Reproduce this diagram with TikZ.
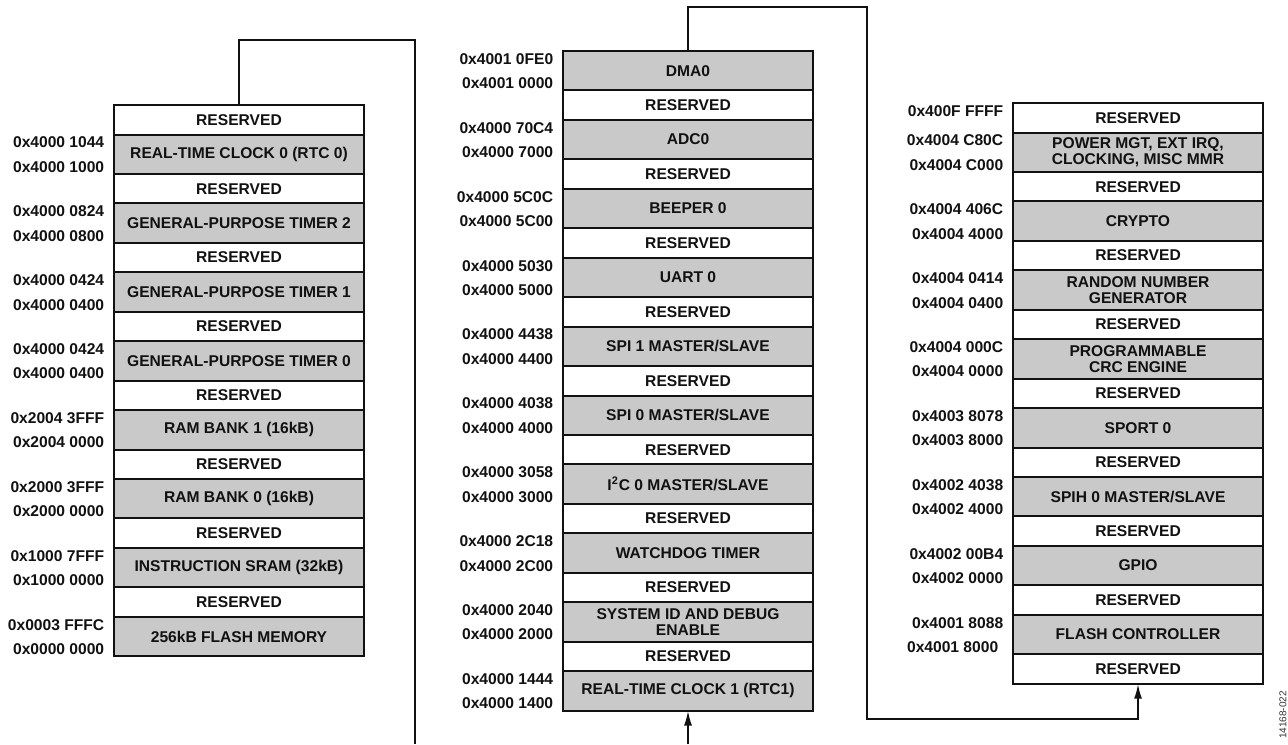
\documentclass[tikz,border=0pt]{standalone}
\usepackage{fontspec}
\setmainfont{Liberation Sans}
\usetikzlibrary{arrows.meta, positioning, calc}
\definecolor{memGray}{HTML}{C9C9C9}
\definecolor{memInk}{HTML}{111111}

\tikzset{
  cell/.style={draw=memInk, line width=1pt, minimum width=125pt, inner sep=0pt,
    outer sep=0pt, anchor=north west, align=center, text=memInk,
    font=\fontsize{7.8}{8}\selectfont\bfseries},
  resv/.style={cell, fill=white, minimum height=14.75pt},
  blk/.style={cell, fill=memGray, minimum height=19.7pt},
  kind/.code={\ifnum#1=1 \pgfkeysalso{blk}\else\pgfkeysalso{resv}\fi},
  addr/.style={anchor=east, inner sep=0pt, text=memInk,
    font=\fontsize{7.8}{8}\selectfont\bfseries},
  link/.style={draw=memInk, line width=1pt},
  tip/.style={-{Latex[length=7.5pt, width=4pt]}},
}

\begin{document}
\begin{tikzpicture}[x=0.5pt, y=-0.5pt]
  \useasboundingbox (0,0) rectangle (1288,744);

  % left column: code and SRAM
  \foreach \k/\txt/\hi/\lo [count=\i] in {
      0/RESERVED/{}/{}, 1/REAL-TIME CLOCK 0 (RTC 0)/0x4000 1044/0x4000 1000,
      0/RESERVED/{}/{}, 1/GENERAL-PURPOSE TIMER 2/0x4000 0824/0x4000 0800,
      0/RESERVED/{}/{}, 1/GENERAL-PURPOSE TIMER 1/0x4000 0424/0x4000 0400,
      0/RESERVED/{}/{}, 1/GENERAL-PURPOSE TIMER 0/0x4000 0424/0x4000 0400,
      0/RESERVED/{}/{}, 1/RAM BANK 1 (16kB)/0x2004 3FFF/0x2004 0000,
      0/RESERVED/{}/{}, 1/RAM BANK 0 (16kB)/0x2000 3FFF/0x2000 0000,
      0/RESERVED/{}/{}, 1/INSTRUCTION SRAM (32kB)/0x1000 7FFF/0x1000 0000,
      0/RESERVED/{}/{}, 1/256kB FLASH MEMORY/0x0003 FFFC/0x0000 0000} {
    \pgfmathtruncatemacro\j{\i-1}
    \ifnum\i=1
      \node[kind=\k] (L\i) at (114,105) {\txt};
    \else
      \node[kind=\k] (L\i) at (L\j.south west) {\txt};
    \fi
    \node[addr] (L\i-hi) at ([xshift=-4.7pt, yshift=-4pt]L\i.north west) {\hi};
    \node[addr] (L\i-lo) at ([xshift=-4.7pt, yshift=3.5pt]L\i.south west) {\lo};
  }

  % middle column: peripherals
  \foreach \k/\txt/\hi/\lo [count=\i] in {
      1/DMA0/0x4001 0FE0/0x4001 0000,
      0/RESERVED/{}/{}, 1/ADC0/0x4000 70C4/0x4000 7000,
      0/RESERVED/{}/{}, 1/BEEPER 0/0x4000 5C0C/0x4000 5C00,
      0/RESERVED/{}/{}, 1/UART 0/0x4000 5030/0x4000 5000,
      0/RESERVED/{}/{}, 1/{SPI 1 MASTER/SLAVE}/0x4000 4438/0x4000 4400,
      0/RESERVED/{}/{}, 1/{SPI 0 MASTER/SLAVE}/0x4000 4038/0x4000 4000,
      0/RESERVED/{}/{}, 1/{I\textsuperscript{2}C 0 MASTER/SLAVE}/0x4000 3058/0x4000 3000,
      0/RESERVED/{}/{}, 1/WATCHDOG TIMER/0x4000 2C18/0x4000 2C00,
      0/RESERVED/{}/{}, 1/SYSTEM ID AND DEBUG\\ENABLE/0x4000 2040/0x4000 2000,
      0/RESERVED/{}/{}, 1/REAL-TIME CLOCK 1 (RTC1)/0x4000 1444/0x4000 1400} {
    \pgfmathtruncatemacro\j{\i-1}
    \ifnum\i=1
      \node[kind=\k] (M\i) at (563,51) {\txt};
    \else
      \node[kind=\k] (M\i) at (M\j.south west) {\txt};
    \fi
    \node[addr] (M\i-hi) at ([xshift=-4.7pt, yshift=-4pt]M\i.north west) {\hi};
    \node[addr] (M\i-lo) at ([xshift=-4.7pt, yshift=3.5pt]M\i.south west) {\lo};
  }

  % right column: peripherals
  \foreach \k/\txt/\hi/\lo [count=\i] in {
      0/RESERVED/0x400F FFFF/{}, 1/{POWER MGT, EXT IRQ,\\CLOCKING, MISC MMR}/0x4004 C80C/0x4004 C000,
      0/RESERVED/{}/{}, 1/CRYPTO/0x4004 406C/0x4004 4000,
      0/RESERVED/{}/{}, 1/RANDOM NUMBER\\GENERATOR/0x4004 0414/0x4004 0400,
      0/RESERVED/{}/{}, 1/PROGRAMMABLE\\CRC ENGINE/0x4004 000C/0x4004 0000,
      0/RESERVED/{}/{}, 1/SPORT 0/0x4003 8078/0x4003 8000,
      0/RESERVED/{}/{}, 1/{SPIH 0 MASTER/SLAVE}/0x4002 4038/0x4002 4000,
      0/RESERVED/{}/{}, 1/GPIO/0x4002 00B4/0x4002 0000,
      0/RESERVED/{}/{}, 1/FLASH CONTROLLER/0x4001 8088/0x4001 8000\kern2.5pt,
      0/RESERVED/{}/{}} {
    \pgfmathtruncatemacro\j{\i-1}
    \ifnum\i=1
      \node[kind=\k] (R\i) at (1013,103) {\txt};
    \else
      \node[kind=\k] (R\i) at (R\j.south west) {\txt};
    \fi
    \node[addr] (R\i-hi) at ([xshift=-4.7pt, yshift=-4pt]R\i.north west) {\hi};
    \node[addr] (R\i-lo) at ([xshift=-4.7pt, yshift=3.5pt]R\i.south west) {\lo};
  }

  % continuation lines
  \coordinate (lTurn) at (415,40);
  \coordinate (lEnd) at (415,744);
  \draw[link] (L1.north) |- (lTurn) -- (lEnd);

  \coordinate (mIn) at (688,744);
  \draw[link, tip] (mIn) -- (M19.south);

  \coordinate (mTurn) at (867,7);
  \coordinate (mBend) at (867,719);
  \draw[link, tip] (M1.north) |- (mTurn) -- (mBend) -| (R17.south);

  \node[rotate=90, inner sep=0pt, text=black!80, font=\fontsize{5}{6}\selectfont]
    (figId) at (1283,715) {14168-022};
\end{tikzpicture}
\end{document}
